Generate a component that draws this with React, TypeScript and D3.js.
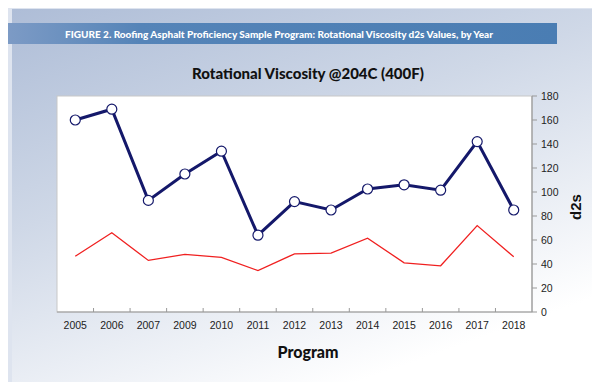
import { useEffect, useRef } from 'react';
import * as d3 from 'd3';

const years = ['2005', '2006', '2007', '2009', '2010', '2011', '2012', '2013', '2014', '2015', '2016', '2017', '2018'];
const d2sValues = [160, 169, 93, 115, 134, 64, 92, 85, 102.5, 106, 101.5, 142, 85];
const redValues = [46.5, 66, 43, 48, 45.5, 34.5, 48.5, 49, 61.5, 41, 38.5, 72, 46];
const yTicks = [0, 20, 40, 60, 80, 100, 120, 140, 160, 180];

const W = 600;
const H = 390;
const plot = { left: 57, top: 96, right: 532, bottom: 312 };

export default function App() {
  const svgRef = useRef<SVGSVGElement>(null);

  useEffect(() => {
    if (!svgRef.current) return;
    const svg = d3.select(svgRef.current);
    svg.selectAll('*').remove();

    const defs = svg.append('defs');
    const bg = defs.append('linearGradient').attr('id', 'bg').attr('x1', 0).attr('y1', 0).attr('x2', 0.55).attr('y2', 1);
    bg.append('stop').attr('offset', '0%').attr('stop-color', '#aebdd7');
    bg.append('stop').attr('offset', '45%').attr('stop-color', '#cfd8e7');
    bg.append('stop').attr('offset', '100%').attr('stop-color', '#ffffff');
    const band = defs.append('linearGradient').attr('id', 'band').attr('x1', 0).attr('y1', 0).attr('x2', 1).attr('y2', 0);
    band.append('stop').attr('offset', '0%').attr('stop-color', '#7f9cc6');
    band.append('stop').attr('offset', '25%').attr('stop-color', '#5584b8');
    band.append('stop').attr('offset', '100%').attr('stop-color', '#4a7db3');

    svg.append('rect').attr('width', W).attr('height', H).attr('fill', '#dee4ef');
    svg.append('rect').attr('x', 12).attr('y', 9).attr('width', W - 12).attr('height', H - 9).attr('fill', 'url(#bg)');
    svg.append('rect').attr('x', 0).attr('y', 23).attr('width', 557).attr('height', 21).attr('fill', 'url(#band)');
    svg.append('text')
      .attr('x', 279).attr('y', 38)
      .attr('text-anchor', 'middle')
      .style('font-family', 'Lato, sans-serif').style('font-weight', 900).style('font-size', '10px')
      .attr('fill', '#ffffff')
      .text('FIGURE 2. Roofing Asphalt Proficiency Sample Program: Rotational Viscosity d2s Values, by Year');

    svg.append('text')
      .attr('x', 308).attr('y', 79)
      .attr('text-anchor', 'middle')
      .style('font-family', 'Lato, sans-serif').style('font-weight', 900).style('font-size', '15px')
      .attr('fill', '#111')
      .text('Rotational Viscosity @204C (400F)');

    svg.append('rect')
      .attr('x', plot.left).attr('y', plot.top)
      .attr('width', plot.right - plot.left).attr('height', plot.bottom - plot.top)
      .attr('fill', '#ffffff').attr('stroke', '#c8c8c8').attr('stroke-width', 1);

    const x = d3.scaleBand<string>().domain(years).range([plot.left, plot.right]);
    const y = d3.scaleLinear().domain([0, 180]).range([plot.bottom, plot.top]);
    const cx = (d: string) => (x(d) ?? 0) + x.bandwidth() / 2;

    // bottom axis
    const xAxis = svg.append('g').attr('transform', `translate(0,${plot.bottom})`);
    xAxis.append('line').attr('x1', plot.left).attr('x2', plot.right).attr('stroke', '#999').attr('stroke-width', 1.2);
    xAxis.selectAll('.xt')
      .data(years.slice(1))
      .enter().append('line')
      .attr('x1', d => x(d) ?? 0).attr('x2', d => x(d) ?? 0)
      .attr('y1', 0).attr('y2', -4)
      .attr('stroke', '#999');
    xAxis.selectAll('.xl')
      .data(years)
      .enter().append('text')
      .attr('x', d => cx(d)).attr('y', 17)
      .attr('text-anchor', 'middle')
      .style('font-family', '"Liberation Sans", Arial, sans-serif').style('font-size', '10.5px')
      .attr('fill', '#222')
      .text(d => d);

    // right axis
    const yAxis = svg.append('g').attr('transform', `translate(${plot.right},0)`);
    yAxis.append('line').attr('y1', plot.top).attr('y2', plot.bottom).attr('stroke', '#999').attr('stroke-width', 1.2);
    yAxis.selectAll('.yt')
      .data(yTicks)
      .enter().append('line')
      .attr('x1', 0).attr('x2', 5)
      .attr('y1', d => y(d)).attr('y2', d => y(d))
      .attr('stroke', '#999');
    yAxis.selectAll('.yl')
      .data(yTicks)
      .enter().append('text')
      .attr('x', 9).attr('y', d => y(d)).attr('dy', '0.35em')
      .style('font-family', '"Liberation Sans", Arial, sans-serif').style('font-size', '10.5px')
      .attr('fill', '#222')
      .text(d => d);

    svg.append('text')
      .attr('transform', 'translate(581,207) rotate(-90)')
      .attr('text-anchor', 'middle')
      .style('font-family', '"Liberation Sans", Arial, sans-serif').style('font-weight', 700).style('font-size', '15px')
      .attr('fill', '#111')
      .text('d2s');

    svg.append('text')
      .attr('x', 308).attr('y', 358)
      .attr('text-anchor', 'middle')
      .style('font-family', 'Lato, sans-serif').style('font-weight', 900).style('font-size', '16px')
      .attr('fill', '#111')
      .text('Program');

    const redLine = d3.line<number>().x((_, i) => cx(years[i])).y(d => y(d));
    svg.append('path')
      .attr('d', redLine(redValues))
      .attr('fill', 'none').attr('stroke', '#f02020').attr('stroke-width', 1.3);

    const blueLine = d3.line<number>().x((_, i) => cx(years[i])).y(d => y(d));
    svg.append('path')
      .attr('d', blueLine(d2sValues))
      .attr('fill', 'none').attr('stroke', '#14186a').attr('stroke-width', 3);

    svg.selectAll('.pt')
      .data(d2sValues)
      .enter().append('circle')
      .attr('cx', (_, i) => cx(years[i])).attr('cy', d => y(d))
      .attr('r', 5)
      .attr('fill', '#ffffff').attr('stroke', '#14186a').attr('stroke-width', 1.2);
  }, []);

  return (
    <div style={{ margin: -8 }}>
      <svg ref={svgRef} width={W} height={H} style={{ display: 'block' }} />
    </div>
  );
}
